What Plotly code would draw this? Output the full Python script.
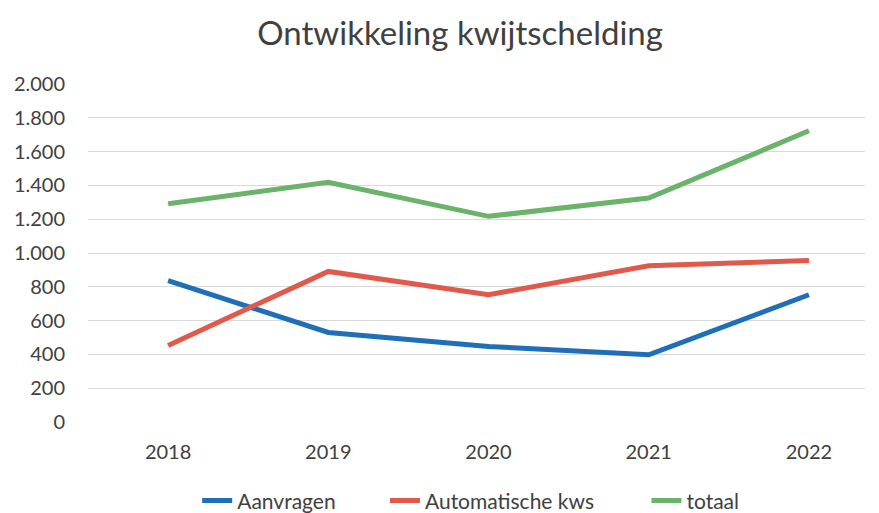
import plotly.graph_objects as go

years = ["2018", "2019", "2020", "2021", "2022"]
aanvragen = [836, 530, 447, 398, 753]
automatische = [453, 891, 753, 925, 956]
totaal = [1292, 1418, 1217, 1325, 1723]
y_ticks = [0, 200, 400, 600, 800, 1000, 1200, 1400, 1600, 1800, 2000]
y_labels = ["0", "200", "400", "600", "800", "1.000", "1.200", "1.400", "1.600", "1.800", "2.000"]

font = "Lato, Carlito, 'Open Sans', sans-serif"
fig = go.Figure()
series = [("Aanvragen", aanvragen, "#1f6fb8", "legend"),
          ("Automatische kws", automatische, "#e05a4c", "legend2"),
          ("totaal", totaal, "#6bb36a", "legend3")]
for name, vals, col, lg in series:
    fig.add_trace(go.Scatter(x=years, y=vals, name=name, mode="lines",
                             line=dict(color=col, width=5), legend=lg))

def leg(x):
    return dict(orientation="h", x=x, xanchor="left", xref="container",
                y=0.024, yanchor="middle", yref="container",
                font=dict(size=21, color="#404040"), bgcolor="rgba(0,0,0,0)")

# the page body has an 8px margin, so the figure is sized/offset accordingly
fig.update_layout(
    width=871, height=505,
    margin=dict(l=80, r=14, t=76, b=91),
    paper_bgcolor="white", plot_bgcolor="white",
    title=dict(text="Ontwikkeling kwijtschelding", x=0.519, xanchor="center",
               y=0.95, yanchor="middle", automargin=False,
               font=dict(family=font, size=33, color="#404040")),
    font=dict(family=font, size=20, color="#404040"),
    xaxis=dict(type="category", range=[-0.5, 4.35], showgrid=False,
               showline=False, ticks="", automargin=False, ticklabelstandoff=16,
               tickfont=dict(size=20, color="#404040")),
    yaxis=dict(range=[0, 2000], tickvals=y_ticks, ticktext=y_labels,
               showgrid=True, gridcolor="#d9d9d9", gridwidth=1, zeroline=False,
               showline=False, ticks="", ticklabelstandoff=22, automargin=False,
               tickfont=dict(size=20, color="#404040")),
    legend=leg(0.2172),
    legend2=leg(0.4328),
    legend3=leg(0.733),
    showlegend=True,
)
fig.write_html("out.html")
